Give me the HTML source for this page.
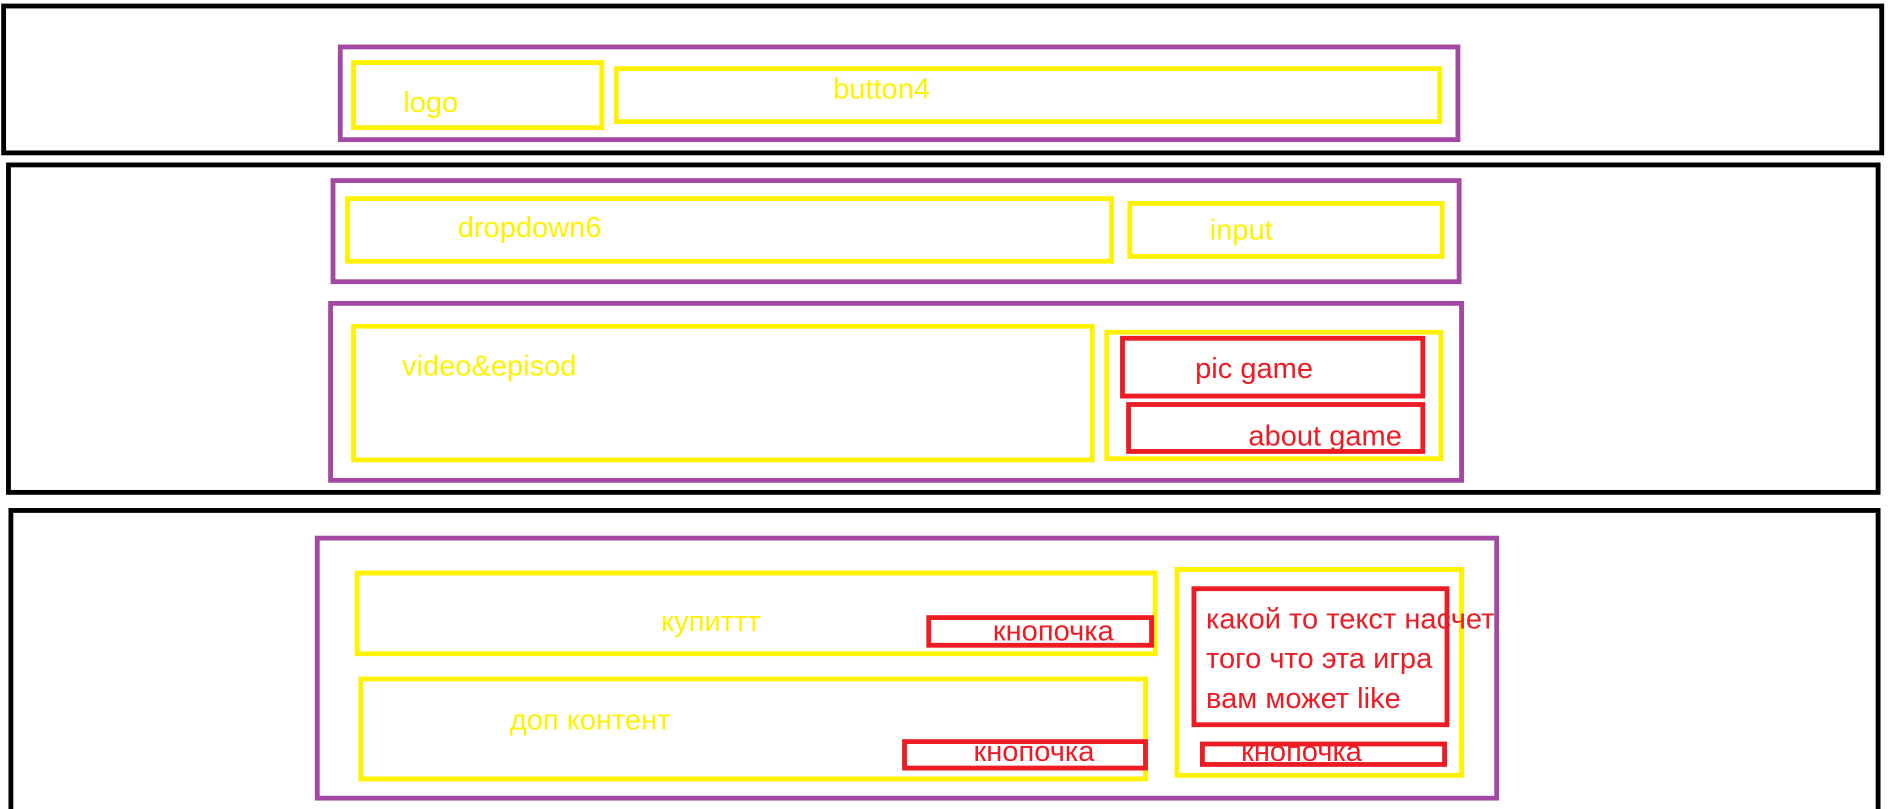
<!DOCTYPE html>
<html><head><meta charset="utf-8"><style>
html,body{margin:0;padding:0;background:#fff;width:1889px;height:809px;overflow:hidden}
svg{display:block}
text{font-family:"Liberation Sans","Noto Sans CJK SC",sans-serif;font-size:24px}
</style></head><body>
<svg width="1889" height="809" viewBox="0 0 1560 672" preserveAspectRatio="none">
<g fill="none" stroke-width="4">
<rect x="3" y="5" width="1551" height="122" stroke="#000"/>
<rect x="7" y="137" width="1544" height="272" stroke="#000"/>
<rect x="9" y="424" width="1542" height="260" stroke="#000"/>
<g stroke="#a349a4">
<rect x="281" y="39" width="923" height="77"/>
<rect x="275" y="150" width="930" height="84"/>
<rect x="273" y="252" width="934" height="147"/>
<rect x="262" y="447" width="974" height="216"/>
</g>
<g stroke="#fff200">
<rect x="292" y="52" width="205" height="54"/>
<rect x="509" y="57" width="680" height="44"/>
<rect x="287" y="165" width="631" height="52"/>
<rect x="933" y="169" width="258" height="44"/>
<rect x="292" y="271" width="610" height="111"/>
<rect x="914" y="276" width="276" height="105"/>
<rect x="295" y="476" width="659" height="67"/>
<rect x="298" y="564" width="648" height="83"/>
<rect x="972" y="473" width="235" height="171"/>
</g>
<g stroke="#ed1c24">
<rect x="927" y="281" width="248" height="48"/>
<rect x="932" y="336" width="243" height="39"/>
<rect x="767" y="513" width="184" height="23"/>
<rect x="747" y="616" width="199" height="22"/>
<rect x="986" y="489" width="209" height="113"/>
<rect x="993" y="618" width="200" height="17"/>
</g>
</g>
<g fill="#fff200">
<text x="333" y="93">logo</text>
<text x="688" y="82">button4</text>
<text x="378" y="197">dropdown6</text>
<text x="999" y="199">input</text>
<text x="332" y="312">video&amp;episod</text>
<text x="546" y="524">купиттт</text>
<text x="421" y="606">доп контент</text>
</g>
<g fill="#ed1c24">
<text x="987" y="314">pic game</text>
<text x="1031" y="370">about game</text>
<text x="820" y="532">кнопочка</text>
<text x="804" y="632">кнопочка</text>
<text x="1025" y="632">кнопочка</text>
<text x="996" y="522">какой то текст насчет</text>
<text x="996" y="555">того что эта игра</text>
<text x="996" y="588">вам может like</text>
</g>
</svg>
</body></html>
